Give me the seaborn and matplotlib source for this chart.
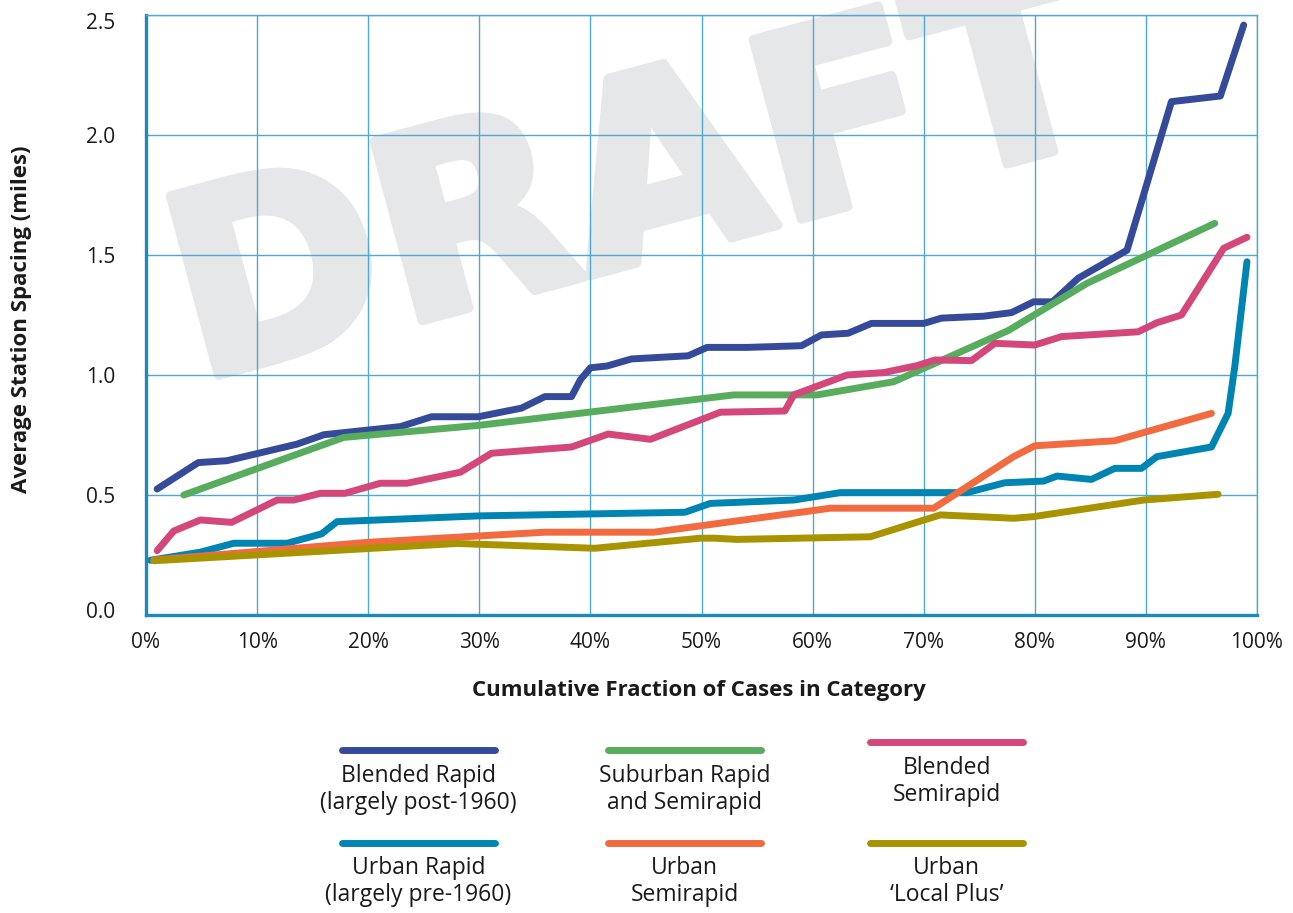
import matplotlib
matplotlib.use("Agg")
import matplotlib.pyplot as plt
import matplotlib.patheffects as pe
from matplotlib.font_manager import FontProperties
from matplotlib.lines import Line2D
from matplotlib.transforms import ScaledTranslation
import pandas as pd
import seaborn as sns

# ---- data: cumulative fraction of cases (%) vs average station spacing (miles)
blended_rapid_x = [1.0, 4.7, 7.3, 13.6, 16.0, 22.9, 25.7, 29.9, 33.8, 35.9, 38.3, 39.1, 40.0,
                   41.5, 43.7, 48.8, 50.5, 54.1, 59.0, 60.8, 63.2, 65.3, 70.0, 71.6, 75.4, 77.9,
                   79.9, 81.6, 83.9, 88.3, 92.3, 96.7, 98.8]
blended_rapid_y = [0.525, 0.635, 0.643, 0.712, 0.751, 0.785, 0.826, 0.826, 0.862, 0.91, 0.91,
                   0.98, 1.03, 1.0375, 1.067, 1.08, 1.115, 1.115, 1.122, 1.167, 1.174, 1.215,
                   1.215, 1.237, 1.245, 1.26, 1.305, 1.305, 1.403, 1.52, 2.139, 2.1625, 2.458]

suburban_x = [3.4, 17.8, 29.9, 52.9, 60.4, 67.3, 77.6, 84.7, 96.2]
suburban_y = [0.50, 0.74, 0.79, 0.917, 0.917, 0.972, 1.185, 1.382, 1.632]

blended_semi_x = [1.0, 2.5, 4.9, 7.7, 11.8, 13.3, 15.7, 17.9, 21.1, 23.5, 28.3, 31.1, 38.3,
                  41.6, 45.4, 51.7, 57.5, 58.3, 63.1, 66.4, 69.4, 71.0, 74.3, 76.4, 80.0, 82.4,
                  89.3, 91.0, 93.2, 97.0, 99.1]
blended_semi_y = [0.268, 0.35, 0.396, 0.386, 0.479, 0.479, 0.507, 0.507, 0.549, 0.549, 0.595,
                  0.674, 0.70, 0.754, 0.732, 0.845, 0.85, 0.917, 1.0, 1.01, 1.039, 1.0625, 1.06,
                  1.132, 1.125, 1.16, 1.18, 1.218, 1.25, 1.528, 1.574]

urban_rapid_x = [0.4, 4.9, 7.9, 12.7, 15.8, 17.2, 30.0, 48.5, 50.8, 58.3, 62.5, 73.9, 77.3,
                 80.8, 82.0, 85.1, 87.2, 89.6, 91.0, 95.9, 97.4, 98.0, 99.1]
urban_rapid_y = [0.228, 0.262, 0.299, 0.299, 0.338, 0.389, 0.413, 0.428, 0.465, 0.479, 0.51,
                 0.51, 0.551, 0.558, 0.579, 0.565, 0.611, 0.611, 0.66, 0.70, 0.84, 1.035, 1.472]

urban_semi_x = [0.7, 20.0, 35.9, 45.7, 61.6, 70.9, 78.1, 80.0, 87.2, 95.9]
urban_semi_y = [0.229, 0.303, 0.345, 0.345, 0.445, 0.445, 0.66, 0.705, 0.726, 0.84]

local_plus_x = [0.7, 28.0, 40.4, 49.9, 51.2, 53.2, 65.2, 71.5, 78.1, 79.9, 89.8, 96.5]
local_plus_y = [0.226, 0.298, 0.278, 0.32, 0.32, 0.315, 0.326, 0.417, 0.403, 0.41, 0.479, 0.503]

x_ticks = [0, 10, 20, 30, 40, 50, 60, 70, 80, 90, 100]
y_ticks = [0.0, 0.5, 1.0, 1.5, 2.0, 2.5]

# (x, y, colour, legend lines, legend column, legend row)
series = [
    (urban_rapid_x, urban_rapid_y, "#0085b2", ["Urban Rapid", "(largely pre-1960)"], 0, 1),
    (urban_semi_x, urban_semi_y, "#f26a3f", ["Urban", "Semirapid"], 1, 1),
    (local_plus_x, local_plus_y, "#a89400", ["Urban", "\u2018Local Plus\u2019"], 2, 1),
    (blended_rapid_x, blended_rapid_y, "#354b99", ["Blended Rapid", "(largely post-1960)"], 0, 0),
    (suburban_x, suburban_y, "#58ac5e", ["Suburban Rapid", "and Semirapid"], 1, 0),
    (blended_semi_x, blended_semi_y, "#d4477b", ["Blended", "Semirapid"], 2, 0),
]

W, H = 1293, 913
sns.set_theme(style="white")
plt.rcParams["font.family"] = ["Open Sans", "DejaVu Sans"]

fig = plt.figure(figsize=(W / 100, H / 100), dpi=100)


def fx(x):
    return x / W


def fy(y):
    return 1 - y / H


ax = fig.add_axes([fx(146), fy(615), (1257 - 146) / W, 600 / H])
ax.patch.set_alpha(0)

# heavy watermark behind the plotting area
wm_color = "#e6e7e9"
wm = fig.text(fx(655), fy(258), "DRAFT",
              fontproperties=FontProperties(family="DejaVu Sans", weight="bold", size=183),
              color=wm_color, rotation=15, rotation_mode="anchor",
              ha="center", va="baseline", zorder=-5)
wm.set_path_effects([pe.withStroke(linewidth=7, foreground=wm_color)])

for xs, ys, color, _, _, _ in series:
    df = pd.DataFrame({"pct": xs, "miles": ys})
    sns.lineplot(data=df, x="pct", y="miles", ax=ax, color=color, linewidth=5.0,
                 solid_capstyle="round", solid_joinstyle="round", legend=False)

ax.set_xlim(0, 100)
ax.set_ylim(0, 2.5)
ax.set_xticks(x_ticks)
ax.set_xticklabels([f"{t}%" for t in x_ticks])
ax.set_yticks(y_ticks)
ax.set_yticklabels([f"{t:.1f}" for t in y_ticks])
ax.tick_params(axis="both", length=0, labelsize=15, colors="#1a1a1a")
ax.tick_params(axis="y", pad=22)
ax.tick_params(axis="x", pad=12)

ax.grid(True, color="#4fa8cd", linewidth=1.0)
ax.set_axisbelow(True)
for side in ["top", "right"]:
    ax.spines[side].set_color("#4fa8cd")
    ax.spines[side].set_linewidth(1.0)
for side in ["left", "bottom"]:
    ax.spines[side].set_color("#1a8bba")
    ax.spines[side].set_linewidth(2.4)

ax.set_xlabel("Cumulative Fraction of Cases in Category", fontsize=16,
              fontweight="bold", color="#1a1a1a")
ax.set_ylabel("Average Station Spacing (miles)", fontsize=16,
              fontweight="bold", color="#1a1a1a")
ax.xaxis.set_label_coords((699 - 146) / 1111, (615 - 690) / 600)
ax.xaxis.label.set_va("center")
ax.yaxis.set_label_coords((22 - 146) / 1111, (615 - 319) / 600)
ax.yaxis.label.set_va("center")

# end labels of the value axis sit slightly inside the frame
yt = ax.yaxis.get_major_ticks()
yt[0].label1.set_transform(yt[0].label1.get_transform()
                           + ScaledTranslation(0, 5 / 100, fig.dpi_scale_trans))
yt[-1].label1.set_transform(yt[-1].label1.get_transform()
                            + ScaledTranslation(0, -6 / 100, fig.dpi_scale_trans))

# legend drawn as a grid of swatches with two-line captions
col_left = [342, 608, 870]
swatch_len = 153
row_line_y = [[750, 750, 742], [843, 843, 843]]
row_text_y = [[(776, 803), (776, 803), (768, 795)], [(868, 895), (868, 895), (868, 895)]]
for xs, ys, color, labels, col, row in series:
    x0 = col_left[col]
    y0 = row_line_y[row][col]
    fig.add_artist(Line2D([fx(x0), fx(x0 + swatch_len)], [fy(y0), fy(y0)],
                          color=color, linewidth=5.0, solid_capstyle="round"))
    for text, ty in zip(labels, row_text_y[row][col]):
        fig.text(fx(x0 + swatch_len / 2), fy(ty), text, ha="center", va="center",
                 fontsize=16.5, color="#1a1a1a")

fig.savefig("out.png", dpi=100)
